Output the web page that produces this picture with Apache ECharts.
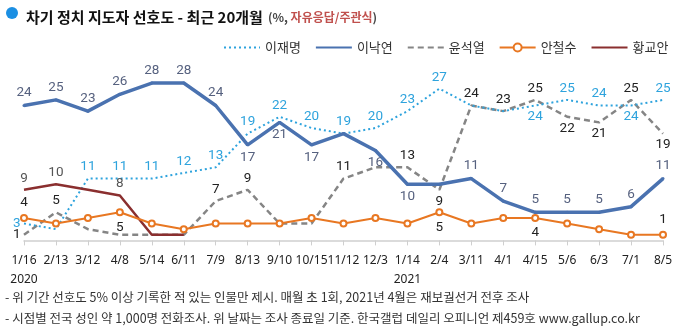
<!DOCTYPE html>
<html>
<head>
<meta charset="utf-8">
<script src="https://cdn.jsdelivr.net/npm/echarts@6/dist/echarts.min.js"></script>
<style>
html,body{margin:0;padding:0;background:#fff;}
#c{width:680px;height:333px;}
</style>
</head>
<body>
<div id="c"></div>
<script>
const categories = ['1/16','2/13','3/12','4/8','5/14','6/11','7/9','8/13','9/10','10/15','11/12','12/3','1/14','2/4','3/11','4/1','4/15','5/6','6/3','7/1','8/5'];
const yearLabels = {0: '2020', 12: '2021'};
const leeJaeMyung = [3,2,11,11,11,12,13,19,22,20,19,20,23,27,24,23,24,25,24,24,25];
const leeNakYon  = [24,25,23,26,28,28,24,17,21,17,19,16,10,10,11,7,5,5,5,6,11];
const yoonSeokYeol = [1,5,2,1,1,1,7,9,3,3,11,13,13,9,24,23,25,22,21,25,19];
const ahnCheolSoo = [4,3,4,5,3,2,3,3,3,4,3,4,3,5,3,4,4,3,2,1,1];
const hwangKyoAhn = [9,10,9,8,1,1,null,null,null,null,null,null,null,null,null,null,null,null,null,null,null];
const seriesNames = ['이재명','이낙연','윤석열','안철수','황교안'];

// label placement (T top, B bottom, L left, . none)
const labelPlan = {
  '이재명': 'L.TTTTTTTTTTTT..BTTBT',
  '이낙연': 'TTTTTTTBBB.BB.TTTTTTT',
  '윤석열': 'LT....TT..T.TBTTTBBTB',
  '안철수': 'T..B.........B..B...T',
  '황교안': 'TT.T.................'
};
const posMap = {T: 'top', B: 'bottom', L: 'left'};

function build(name, values, color) {
  const plan = labelPlan[name];
  return values.map((v, i) => {
    const c = plan[i];
    if (v === null) return null;
    if (c === '.' || !c) return {value: v, label: {show: false}};
    return {value: v, label: {show: true, position: posMap[c], distance: c === 'L' ? 3 : 4, color: color}};
  });
}

const labelFont = {fontFamily: 'Roboto', fontSize: 13.5};

function labelSeries(name, values, color) {
  return {
    name: name + '_label', type: 'line', data: build(name, values, color),
    symbol: 'circle', symbolSize: 1,
    lineStyle: {width: 0, opacity: 0}, itemStyle: {color: 'rgba(0,0,0,0)'},
    label: labelFont, silent: true, z: 6
  };
}

const noMarker = {opacity: 0};

const chart = echarts.init(document.getElementById('c'), null, {renderer: 'canvas'});
chart.setOption({
  animation: false,
  backgroundColor: '#fff',
  title: {
    left: 21, top: 3,
    text: '{b|차기 정치 지도자 선호도 - 최근 20개월} {g|(%, }{r|자유응답/주관식}{g|)}',
    textStyle: {
      rich: {
        b: {fontFamily: 'Noto Sans CJK KR', fontSize: 15, fontWeight: 'bold', color: '#111'},
        g: {fontFamily: 'Noto Sans CJK KR', fontSize: 12, color: '#444'},
        r: {fontFamily: 'Noto Sans CJK KR', fontSize: 12, color: '#c0504d'}
      }
    }
  },
  graphic: [
    {type: 'circle', shape: {cx: 12, cy: 13, r: 6}, style: {fill: '#1b8fe3'}},
    {type: 'text', left: 5, top: 291, style: {text: '- 위 기간 선호도 5% 이상 기록한 적 있는 인물만 제시. 매월 초 1회, 2021년 4월은 재보궐선거 전후 조사', font: '12.5px "Noto Sans CJK KR"', fill: '#333'}},
    {type: 'text', left: 5, top: 312, style: {text: '- 시점별 전국 성인 약 1,000명 전화조사. 위 날짜는 조사 종료일 기준. 한국갤럽 데일리 오피니언 제459호 www.gallup.co.kr', font: '12.5px "Noto Sans CJK KR"', fill: '#333'}}
  ],
  legend: {
    left: 218, top: 36,
    itemWidth: 36, itemHeight: 10, itemGap: 14,
    textStyle: {fontFamily: 'Noto Sans CJK KR', fontSize: 13, color: '#333'},
    data: [
      {name: seriesNames[0], itemStyle: noMarker},
      {name: seriesNames[1], itemStyle: noMarker},
      {name: seriesNames[2], itemStyle: noMarker},
      {name: seriesNames[3]},
      {name: seriesNames[4], itemStyle: noMarker}
    ]
  },
  grid: {left: 24, right: 17, top: 71.8, bottom: 92.6, containLabel: false},
  xAxis: {
    type: 'category',
    data: categories,
    boundaryGap: false,
    axisLine: {lineStyle: {color: '#cfcfcf', width: 1.5}},
    axisTick: {show: true, length: 5, lineStyle: {color: '#cfcfcf'}},
    axisLabel: {
      margin: 11, color: '#222', fontFamily: 'Noto Sans', fontSize: 12, lineHeight: 19,
      interval: 0,
      formatter: (v, i) => v + (yearLabels[i] ? '\n' + yearLabels[i] : '')
    }
  },
  yAxis: {type: 'value', min: 0, max: 30, show: false},
  series: [
    {
      name: '이재명', type: 'line', data: leeJaeMyung,
      symbol: 'none', lineStyle: {color: '#2ea3dd', width: 2, type: [2, 3]}, itemStyle: {color: '#2ea3dd'}, z: 3
    },
    {
      name: '이낙연', type: 'line', data: build('이낙연', leeNakYon, '#56617f'),
      symbol: 'circle', symbolSize: 3, lineStyle: {color: '#4a72b0', width: 3.5}, itemStyle: {color: '#4a72b0'},
      label: labelFont, z: 4
    },
    {
      name: '윤석열', type: 'line', data: yoonSeokYeol,
      symbol: 'none', lineStyle: {color: '#858585', width: 2.5, type: [6, 4]}, itemStyle: {color: '#858585'}, z: 2
    },
    {
      name: '안철수', type: 'line', data: build('안철수', ahnCheolSoo, '#222'),
      symbol: 'emptyCircle', symbolSize: 6, lineStyle: {color: '#e87722', width: 2}, itemStyle: {color: '#e87722', borderWidth: 1.5},
      label: labelFont, z: 5
    },
    {
      name: '황교안', type: 'line', data: hwangKyoAhn,
      symbol: 'none', lineStyle: {color: '#8a2f2f', width: 2.5}, itemStyle: {color: '#8a2f2f'}, z: 3
    },
    labelSeries('이재명', leeJaeMyung, '#2ea3dd'),
    labelSeries('윤석열', yoonSeokYeol, '#222'),
    labelSeries('황교안', hwangKyoAhn, '#555')
  ]
});
</script>
</body>
</html>
